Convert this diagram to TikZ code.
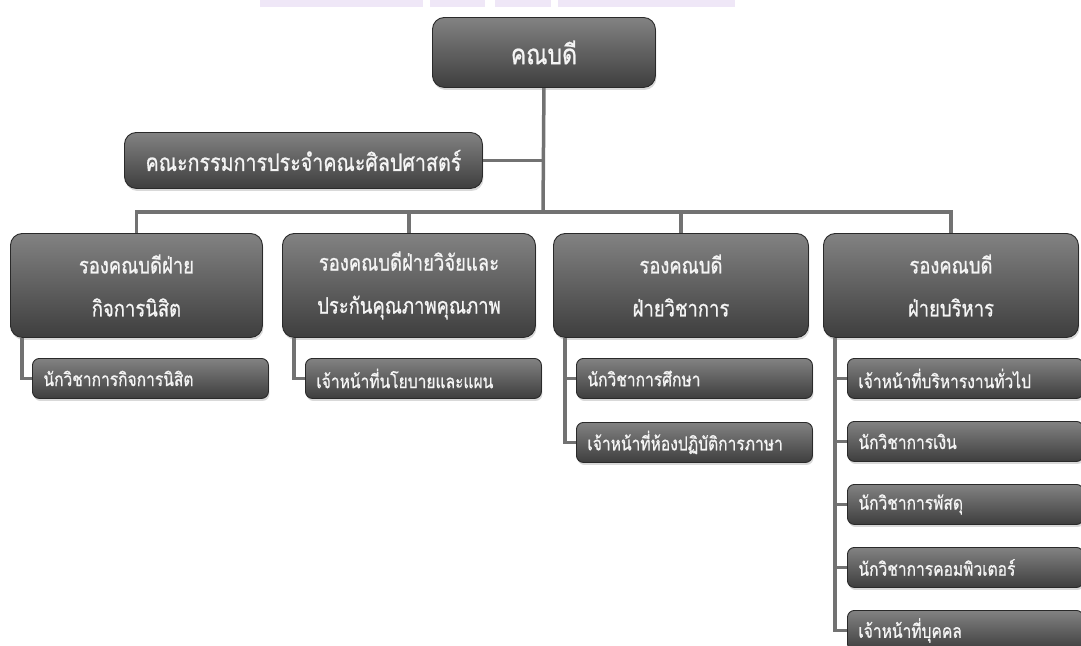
\documentclass[tikz,border=0pt]{standalone}
\usepackage{fontspec}
\newfontfamily\thaifont[Script=Thai, FakeStretch=0.82, FakeBold=0.8]{Loma}
\usetikzlibrary{shadows}
\pgfdeclarelayer{background}
\pgfsetlayers{background,main}
\definecolor{lineg}{HTML}{727272}
\definecolor{wm}{HTML}{EFE7F7}
\definecolor{boxtop}{HTML}{828282}
\definecolor{boxbot}{HTML}{3E3E3E}
\definecolor{boxline}{HTML}{2A2A2A}
\definecolor{txt}{HTML}{F4F4F4}
\tikzset{
  box/.style={draw=boxline, line width=0.9pt, rounded corners=12pt,
    top color=boxtop, bottom color=boxbot, text=txt, align=center,
    inner sep=0pt, anchor=north west,
    drop shadow={opacity=0.3, shadow xshift=1pt, shadow yshift=-2.5pt}},
  bigbox/.style={box, font=\thaifont\fontsize{22.5}{43}\selectfont,
    minimum width=254pt, minimum height=104pt},
  subbox/.style={box, rounded corners=7pt, font=\thaifont\fontsize{19}{21}\selectfont,
    minimum width=236pt, minimum height=40pt, inner xsep=11pt,
    text width=214pt, align=left},
  conn/.style={draw=lineg, line width=3.5pt},
}
\begin{document}
\begin{tikzpicture}[x=1pt,y=-1pt]
\useasboundingbox (0,0) rectangle (1081,645);
\clip (0,0) rectangle (1081,645);
% watermark remnants
\fill[wm] (260,0) rectangle (423,7);
\fill[wm] (430,0) rectangle (485,7);
\fill[wm] (495,0) rectangle (551,7);
\fill[wm] (558,0) rectangle (735,7);

\node[box, font=\thaifont\fontsize{28}{32}\selectfont, minimum width=223pt, minimum height=70pt] (dean) at (432,17) {คณบดี};
\node[box, font=\thaifont\fontsize{24}{28}\selectfont, minimum width=358pt, minimum height=56pt] (comm) at (124,132) {คณะกรรมการประจำคณะศิลปศาสตร์};

\node[bigbox, minimum width=252pt] (vp1) at (10,233) {รองคณบดีฝ่าย\\กิจการนิสิต};
\node[bigbox, minimum width=253pt] (vp2) at (282,233) {รองคณบดีฝ่ายวิจัยและ\\ประกันคุณภาพคุณภาพ};
\node[bigbox, minimum width=255pt] (vp3) at (553,233) {รองคณบดี\\ฝ่ายวิชาการ};
\node[bigbox, minimum width=255pt] (vp4) at (823,233) {รองคณบดี\\ฝ่ายบริหาร};

\node[subbox] (s11) at (32,358) {นักวิชาการกิจการนิสิต};
\node[subbox] (s21) at (305,358) {เจ้าหน้าที่นโยบายและแผน};
\node[subbox] (s31) at (576,358) {นักวิชาการศึกษา};
\node[subbox] (s32) at (576,422) {เจ้าหน้าที่ห้องปฏิบัติการภาษา};
\node[subbox] (s41) at (847,358) {เจ้าหน้าที่บริหารงานทั่วไป};
\node[subbox] (s42) at (847,421) {นักวิชาการเงิน};
\node[subbox] (s43) at (847,484) {นักวิชาการพัสดุ};
\node[subbox] (s44) at (847,547) {นักวิชาการคอมพิวเตอร์};
\node[subbox] (s45) at (847,610) {เจ้าหน้าที่บุคคล};

\coordinate (bar) at (543,212);
\begin{pgfonlayer}{background}
\draw[conn] (dean.south) -- (bar);
\draw[conn] (comm.east) -- (comm.east -| bar);
\draw[conn] (vp1.north) |- (bar) -| (vp4.north);
\draw[conn] (vp2.north) -- (vp2.north |- bar);
\draw[conn] (vp3.north) -- (vp3.north |- bar);
\foreach \v/\s in {vp1/s11, vp2/s21, vp3/s31, vp3/s32, vp4/s41, vp4/s42, vp4/s43, vp4/s44, vp4/s45}{
  \draw[conn] ([xshift=12pt]\v.south west) |- (\s.west);
}
\end{pgfonlayer}
\end{tikzpicture}
\end{document}
